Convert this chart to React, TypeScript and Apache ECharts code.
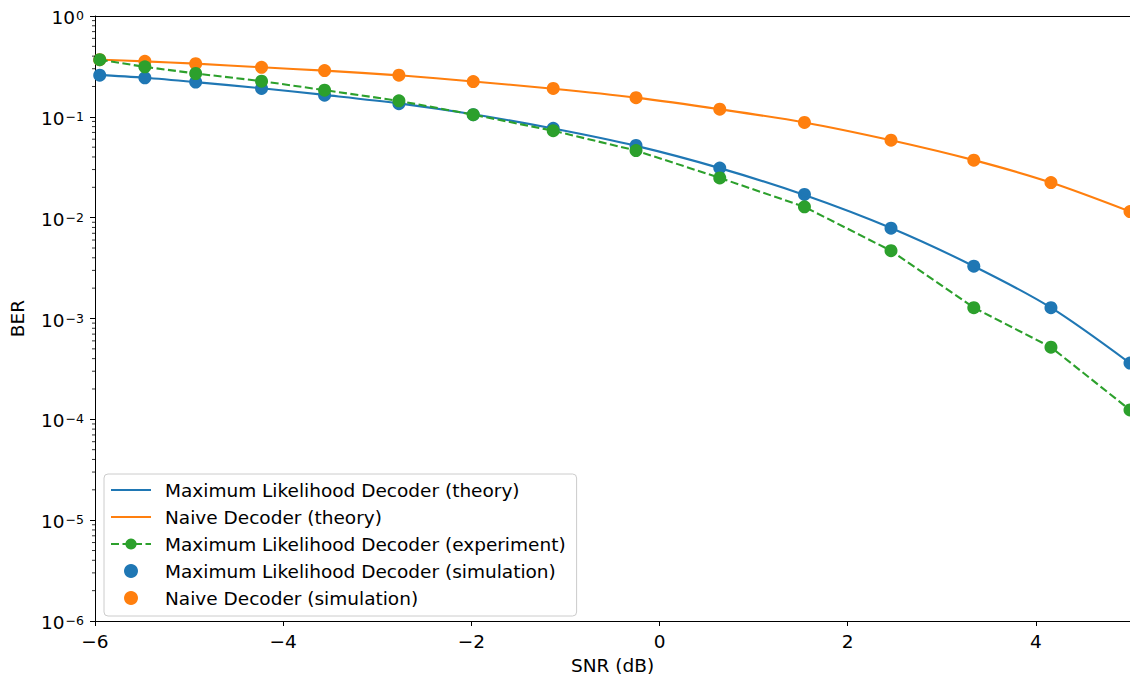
import React, { useEffect, useRef } from "react";
import * as echarts from "echarts";

// ---- data ----
const SNR_SIM = [-5.95, -5.47, -4.93, -4.23, -3.56, -2.77, -1.98, -1.13, -0.25, 0.64, 1.54, 2.46, 3.34, 4.16, 5.0];
const ML_SIM = [0.259, 0.244, 0.221, 0.191, 0.164, 0.135, 0.105, 0.077, 0.052, 0.031, 0.017, 0.00786, 0.0033, 0.00128, 0.000361];
const NAIVE_SIM = [0.369, 0.355, 0.337, 0.31, 0.288, 0.259, 0.224, 0.191, 0.155, 0.119, 0.088, 0.0586, 0.0372, 0.0223, 0.0115];
const ML_EXP = [0.369, 0.313, 0.269, 0.226, 0.184, 0.144, 0.105, 0.0728, 0.0463, 0.0248, 0.0128, 0.0047, 0.00128, 0.000519, 0.000124];

const SNR_TH = [-6.0, -5.47, -4.93, -4.23, -3.56, -2.77, -1.98, -1.13, -0.25, 0.64, 1.54, 2.46, 3.34, 4.16, 5.0];
const ML_TH = [0.262, 0.244, 0.221, 0.192, 0.165, 0.136, 0.106, 0.0765, 0.0515, 0.031, 0.0168, 0.0079, 0.0033, 0.00128, 0.00036];
const NAIVE_TH = [0.37, 0.355, 0.337, 0.31, 0.287, 0.258, 0.224, 0.19, 0.155, 0.119, 0.088, 0.0586, 0.0372, 0.0223, 0.0115];

const X_MIN = -6;
const X_MAX = 5;
const X_TICK_STEP = 2;
const Y_MIN = 1e-6;
const Y_MAX = 1;
const MINOR_TICKS: number[] = [];
for (let e = -6; e < 0; e++) {
  for (let k = 2; k <= 9; k++) MINOR_TICKS.push(k * Math.pow(10, e));
}

const NAMES = [
  "Maximum Likelihood Decoder (theory)",
  "Naive Decoder (theory)",
  "Maximum Likelihood Decoder (experiment)",
  "Maximum Likelihood Decoder (simulation)",
  "Naive Decoder (simulation)",
];

const BLUE = "#1f77b4";
const ORANGE = "#ff7f0e";
const GREEN = "#2ca02c";
const FONT = "DejaVu Sans";
const FS = 18.5;

const zip = (xs: number[], ys: number[]) => xs.map((x, i) => [x, ys[i]]);
const minus = (s: string) => s.replace("-", "\u2212");

export default function App() {
  const ref = useRef<HTMLDivElement>(null);
  useEffect(() => {
    if (!ref.current) return;
    const chart = echarts.init(ref.current, undefined, { renderer: "svg" });
    chart.setOption({
      animation: false,
      backgroundColor: "#fff",
      grid: { left: 95, right: 0, top: 16, height: 610, containLabel: false },
      legend: {
        data: [
          { name: NAMES[0], itemStyle: { opacity: 0 } },
          { name: NAMES[1], itemStyle: { opacity: 0 } },
          { name: NAMES[2] },
          { name: NAMES[3] },
          { name: NAMES[4] },
        ],
        orient: "vertical",
        left: 104,
        top: 474,
        itemWidth: 40,
        itemHeight: 14,
        itemGap: 7,
        padding: [6, 11, 8, 6],
        backgroundColor: "#fff",
        borderColor: "#cccccc",
        borderWidth: 1,
        borderRadius: 4,
        textStyle: { fontFamily: FONT, fontSize: FS, lineHeight: 20, color: "#000", padding: [0, 0, 0, 9] },
      },
      xAxis: [
        {
          type: "value",
          min: X_MIN,
          max: X_MAX,
          interval: X_TICK_STEP,
          name: "SNR (dB)",
          nameLocation: "middle",
          nameGap: 35,
          nameTextStyle: { fontFamily: FONT, fontSize: FS, color: "#000" },
          axisLine: { show: true, onZero: false, lineStyle: { color: "#000", width: 1 } },
          axisTick: { show: true, length: 5, lineStyle: { color: "#000" } },
          axisLabel: {
            showMaxLabel: false,
            margin: 11,
            fontFamily: FONT,
            fontSize: FS,
            color: "#000",
            formatter: (v: number) => minus(String(v)),
          },
          splitLine: { show: false },
        },
        {
          type: "value",
          position: "top",
          min: X_MIN,
          max: X_MAX,
          axisLine: { show: true, onZero: false, lineStyle: { color: "#000", width: 1 } },
          axisTick: { show: false },
          axisLabel: { show: false },
          splitLine: { show: false },
        },
      ],
      yAxis: {
        type: "log",
        logBase: 10,
        min: Y_MIN,
        max: Y_MAX,
        splitNumber: 6,
        name: "BER",
        nameLocation: "middle",
        nameGap: 68,
        nameTextStyle: { fontFamily: FONT, fontSize: FS, color: "#000" },
        axisLine: { show: true, onZero: false, lineStyle: { color: "#000", width: 1 } },
        axisTick: { show: true, length: 5, lineStyle: { color: "#000" } },
        axisLabel: {
          margin: 11,
          color: "#000",
          formatter: (v: number) => `{b|10}{e|${minus(String(Math.round(Math.log10(v))))}}`,
          rich: {
            b: { fontFamily: FONT, fontSize: FS, color: "#000", lineHeight: 22, padding: [3, 0, 0, 0], verticalAlign: "bottom" },
            e: { fontFamily: FONT, fontSize: 12.5, color: "#000", lineHeight: 14, padding: [4, 0, 0, 1], verticalAlign: "top" },
          },
        },
        splitLine: { show: false },
      },
      series: [
        {
          name: NAMES[3],
          type: "scatter",
          z: 1,
          data: zip(SNR_SIM, ML_SIM),
          symbol: "circle",
          symbolSize: 13,
          itemStyle: { color: BLUE, opacity: 1 },
        },
        {
          name: NAMES[4],
          type: "scatter",
          z: 1,
          data: zip(SNR_SIM, NAIVE_SIM),
          symbol: "circle",
          symbolSize: 13,
          itemStyle: { color: ORANGE, opacity: 1 },
        },
        {
          name: NAMES[0],
          type: "line",
          z: 2,
          data: zip(SNR_TH, ML_TH),
          symbol: "none",
          smooth: 0.3,
          lineStyle: { color: BLUE, width: 2.1 },
          itemStyle: { color: BLUE },
        },
        {
          name: NAMES[1],
          type: "line",
          z: 2,
          data: zip(SNR_TH, NAIVE_TH),
          symbol: "none",
          smooth: 0.3,
          lineStyle: { color: ORANGE, width: 2.1 },
          itemStyle: { color: ORANGE },
        },
        {
          name: NAMES[2],
          type: "line",
          z: 3,
          data: zip(SNR_SIM, ML_EXP),
          symbol: "circle",
          symbolSize: 13,
          showSymbol: true,
          lineStyle: { color: GREEN, width: 2.1, type: [8, 3.5] },
          itemStyle: { color: GREEN },
        },
        {
          name: "minor",
          type: "custom",
          z: 4,
          silent: true,
          data: MINOR_TICKS.map((v) => [X_MIN, v]),
          renderItem: (_params: any, api: any) => {
            const p = api.coord([api.value(0), api.value(1)]);
            return {
              type: "line",
              shape: { x1: p[0] - 3, y1: p[1], x2: p[0], y2: p[1] },
              style: { stroke: "#000", lineWidth: 0.8 },
            };
          },
        },
      ],
    });
    return () => chart.dispose();
  }, []);
  return (
    <div
      ref={ref}
      style={{ position: "absolute", left: 0, top: 0, width: 1130, height: 680, background: "#fff" }}
    />
  );
}
